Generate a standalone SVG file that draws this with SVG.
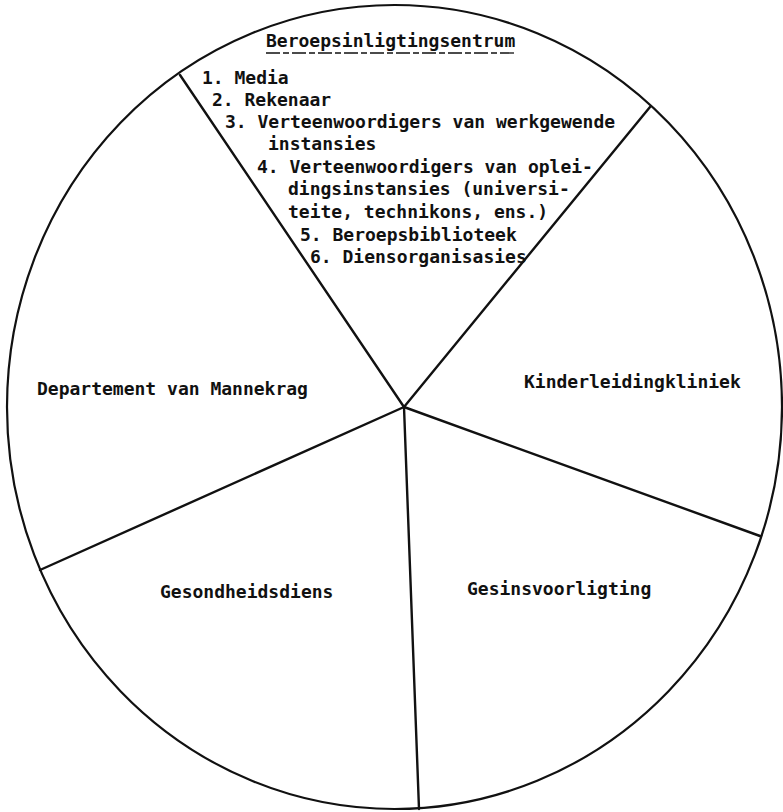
<svg xmlns="http://www.w3.org/2000/svg" width="783" height="812" viewBox="0 0 783 812">
<style>
text{font-family:"DejaVu Sans Mono","Liberation Mono",monospace;font-size:18px;font-weight:bold;fill:#111;}
.ln{stroke:#111;stroke-width:2.4;fill:none;stroke-linecap:round;}
</style>
<rect width="783" height="812" fill="#fff"/>
<ellipse cx="394.5" cy="407" rx="387.5" ry="402" fill="none" stroke="#111" stroke-width="2.2"/>
<g id="connectors">
<line class="ln" x1="404" y1="407" x2="180" y2="75"/>
<line class="ln" x1="404" y1="407" x2="650" y2="107"/>
<line class="ln" x1="404" y1="407" x2="760" y2="536"/>
<line class="ln" x1="404" y1="407" x2="419" y2="809"/>
<line class="ln" x1="404" y1="407" x2="40" y2="570"/>
</g>
<g id="beroepsinligtingsentrum">
<text x="266" y="47">Beroepsinligtingsentrum</text>
<line x1="266" y1="53" x2="514" y2="53" stroke="#111" stroke-width="1.3" stroke-dasharray="14 3 6 3"/>
<text x="202" y="84">1. Media</text>
<text x="212" y="106">2. Rekenaar</text>
<text x="225" y="128">3. Verteenwoordigers van werkgewende</text>
<text x="268" y="150">instansies</text>
<text x="257" y="173">4. Verteenwoordigers van oplei-</text>
<text x="288" y="195">dingsinstansies (universi-</text>
<text x="288" y="218">teite, technikons, ens.)</text>
<text x="300" y="241">5. Beroepsbiblioteek</text>
<text x="310" y="263">6. Diensorganisasies</text>
</g>
<g id="kinderleidingkliniek">
<text x="524" y="388">Kinderleidingkliniek</text>
</g>
<g id="departement">
<text x="37" y="395">Departement van Mannekrag</text>
</g>
<g id="gesondheidsdiens">
<text x="160" y="598">Gesondheidsdiens</text>
</g>
<g id="gesinsvoorligting">
<text x="467" y="595">Gesinsvoorligting</text>
</g>
</svg>
